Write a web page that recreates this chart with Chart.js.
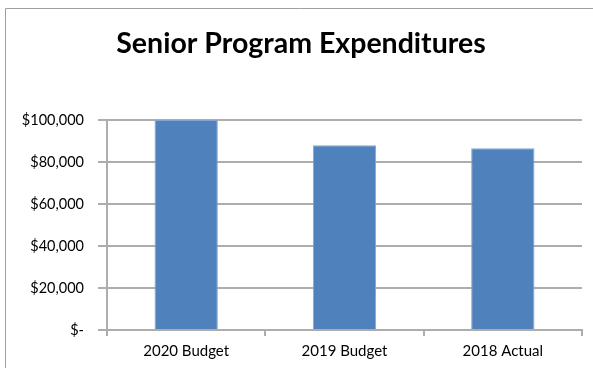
<!DOCTYPE html>
<html>
<head>
<meta charset="utf-8">
<script src="https://cdn.jsdelivr.net/npm/chart.js@4/dist/chart.umd.min.js"></script>
<style>
  html, body { margin: 0; padding: 0; background: #fff; }
  #wrap { width: 593px; height: 368px; position: relative; }
</style>
</head>
<body>
<div id="wrap"><canvas id="chart" width="593" height="368"></canvas></div>
<script>
const chartTitle = 'Senior Program Expenditures';
const categories = ['2020 Budget', '2019 Budget', '2018 Actual'];
const expenditures = [100000, 88000, 86500];
const yTickValues = [0, 20000, 40000, 60000, 80000, 100000];
const yTickLabels = ['$-', '$20,000', '$40,000', '$60,000', '$80,000', '$100,000'];

const FONT = 'Lato, "Open Sans", sans-serif';
const GRID = '#adadad';

// Outer frame and centred title
const framePlugin = {
  id: 'frame',
  beforeDraw(chart) {
    const ctx = chart.ctx;
    ctx.save();
    ctx.fillStyle = '#fff';
    ctx.fillRect(0, 0, chart.width, chart.height);
    ctx.strokeStyle = '#a0a0a0';
    ctx.lineWidth = 1;
    ctx.beginPath();
    ctx.moveTo(5.5, chart.height + 2);
    ctx.lineTo(5.5, 8.5);
    ctx.lineTo(chart.width + 2, 8.5);
    ctx.stroke();
    ctx.restore();
  },
  afterDraw(chart) {
    const ctx = chart.ctx;
    ctx.save();
    ctx.fillStyle = '#000';
    ctx.font = 'bold 28.5px ' + FONT;
    ctx.textAlign = 'center';
    ctx.textBaseline = 'alphabetic';
    ctx.fillText(chartTitle, 301, 53);
    ctx.restore();
  }
};

new Chart(document.getElementById('chart'), {
  type: 'bar',
  data: {
    labels: categories,
    datasets: [{
      data: expenditures,
      backgroundColor: '#4f81bd',
      borderColor: '#85a6d2',
      borderWidth: { top: 1, left: 1, right: 1, bottom: 0 },
      barPercentage: 0.4,
      categoryPercentage: 1.0
    }]
  },
  options: {
    responsive: false,
    animation: false,
    devicePixelRatio: 1,
    layout: { padding: { top: 120, right: 11, bottom: 8, left: 0 } },
    plugins: {
      legend: { display: false },
      title: { display: false },
      tooltip: { enabled: false }
    },
    scales: {
      x: {
        grid: { display: true, drawOnChartArea: false, drawTicks: true, tickLength: 6, color: GRID, lineWidth: 2, offset: true },
        border: { display: true, color: GRID, width: 2 },
        ticks: { color: '#000', font: { family: FONT, size: 15 }, padding: 6 },
        afterFit(scale) { scale.height = 30; }
      },
      y: {
        min: 0,
        max: 100000,
        afterBuildTicks(scale) { scale.ticks = yTickValues.map(v => ({ value: v })); },
        grid: { color: GRID, lineWidth: 2, tickLength: 9, drawTicks: true },
        border: { display: true, color: GRID, width: 2 },
        ticks: {
          color: '#000',
          font: { family: FONT, size: 14.5 },
          padding: 14,
          callback(value) {
            const i = yTickValues.indexOf(value);
            return i >= 0 ? yTickLabels[i] : '';
          }
        },
        afterFit(scale) { scale.width = 107; }
      }
    }
  },
  plugins: [framePlugin]
});
</script>
</body>
</html>
